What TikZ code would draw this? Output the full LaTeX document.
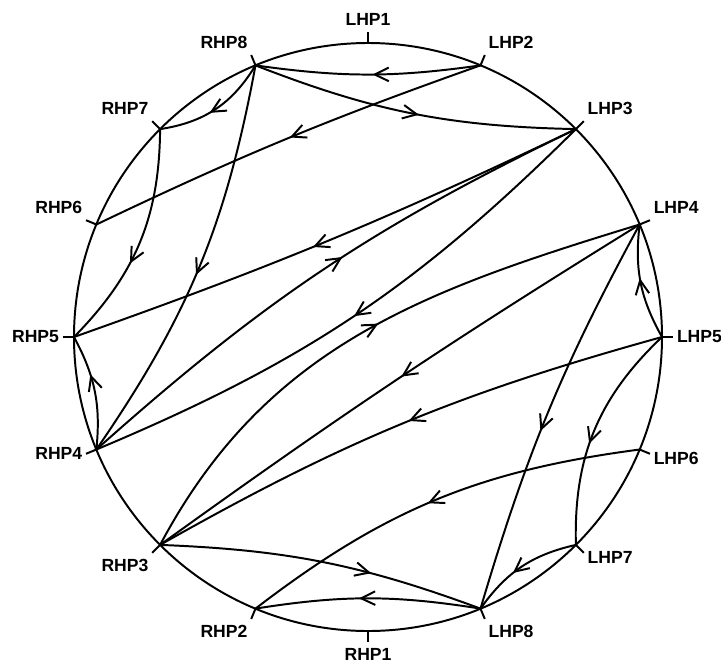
\documentclass[tikz,border=0pt]{standalone}
\usepackage{fontspec}
\setmainfont{Liberation Sans}
\usetikzlibrary{arrows.meta,decorations.markings}

\newcommand{\crad}{7.35}
\newcommand{\trad}{7.63}

\tikzset{
	flow/.style={postaction={decorate},
		decoration={markings,mark=at position #1 with {\arrow{Straight Barb[length=3.5mm,width=3.4mm]}}}},
	flow/.default=0.5,
	hp/.style={font=\fontsize{12.5}{14}\selectfont\bfseries,inner xsep=2pt,inner ysep=4pt}
}

\begin{document}
\begin{tikzpicture}[line width=1.4pt,line join=round]
				\useasboundingbox (-9.2,-8.2) rectangle (8.825,8.425);
				\draw (0,0) circle (\crad);

				% points on the circle, each with its tick and label
				\draw (90:\crad) coordinate (LHP1) -- (90:\trad) node[hp,anchor=south] (tLHP1) {LHP1};
				\draw (67.5:\crad) coordinate (LHP2) -- (67.5:\trad) node[hp,anchor=south west] (tLHP2) {LHP2};
				\draw (45:\crad) coordinate (LHP3) -- (45:\trad) node[hp,anchor=south west] (tLHP3) {LHP3};
				\draw (22.5:\crad) coordinate (LHP4) -- (22.5:\trad) node[hp,anchor=south west] (tLHP4) {LHP4};
				\draw (0:\crad) coordinate (LHP5) -- (0:\trad) node[hp,anchor=west] (tLHP5) {LHP5};
				\draw (-22.5:\crad) coordinate (LHP6) -- (-22.5:\trad) node[hp,anchor=170] (tLHP6) {LHP6};
				\draw (-45:\crad) coordinate (LHP7) -- (-45:\trad) node[hp,anchor=170] (tLHP7) {LHP7};
				\draw (-67.5:\crad) coordinate (LHP8) -- (-67.5:\trad) node[hp,anchor=north west] (tLHP8) {LHP8};
				\draw (-90:\crad) coordinate (RHP1) -- (-90:\trad) node[hp,anchor=north] (tRHP1) {RHP1};
				\draw (-112.5:\crad) coordinate (RHP2) -- (-112.5:\trad) node[hp,anchor=north east] (tRHP2) {RHP2};
				\draw (-135:\crad) coordinate (RHP3) -- (-135:\trad) node[hp,anchor=north east] (tRHP3) {RHP3};
				\draw (-157.5:\crad) coordinate (RHP4) -- (-157.5:\trad) node[hp,anchor=east] (tRHP4) {RHP4};
				\draw (180:\crad) coordinate (RHP5) -- (180:\trad) node[hp,anchor=east] (tRHP5) {RHP5};
				\draw (157.5:\crad) coordinate (RHP6) -- (157.5:\trad) node[hp,anchor=south east] (tRHP6) {RHP6};
				\draw (135:\crad) coordinate (RHP7) -- (135:\trad) node[hp,anchor=south east] (tRHP7) {RHP7};
				\draw (112.5:\crad) coordinate (RHP8) -- (112.5:\trad) node[hp,anchor=south east] (tRHP8) {RHP8};

				% chords
				\draw[flow=0.48] (LHP2) to[bend left=8] (RHP8);
				\draw[flow=0.52] (RHP8) to[bend right=10] (LHP3);
				\draw[flow=0.49] (LHP2) to[bend right=3] (RHP6);
				\draw[flow=0.56] (RHP8) to[bend left=25] (RHP7);
				\draw[flow=0.52] (RHP8) to[bend left=12] (RHP4);
				\draw[flow=0.6] (RHP7) to[bend left=22] (RHP5);
				\draw[flow=0.53] (LHP3) to[bend left=3] (RHP5);
				\draw[flow=0.65] (RHP4) to[bend right=17] (RHP5);
				\draw[flow=0.54] (RHP4) to[bend left=8] (LHP3);
				\draw[flow=0.5] (LHP3) to[bend left=11] (RHP4);
				\draw[flow=0.53] (RHP3) to[out=62,in=197] (LHP4);
				\draw[flow=0.49] (LHP4) to[bend right=2] (RHP3);
				\draw[flow=0.49] (LHP5) to[bend right=7] (RHP3);
				\draw[flow=0.52] (LHP6) to[bend right=15] (RHP2);
				\draw[flow=0.55] (LHP4) to[bend right=6] (LHP8);
				\draw[flow=0.54] (LHP5) to[bend left=18] (LHP4);
				\draw[flow=0.56] (LHP5) to[bend right=24] (LHP7);
				\draw[flow=0.59] (LHP7) to[bend right=21] (LHP8);
				\draw[flow=0.65] (RHP3) to[bend left=9] (LHP8);
				\draw[flow=0.54] (LHP8) to[bend right=9] (RHP2);
\end{tikzpicture}
\end{document}
